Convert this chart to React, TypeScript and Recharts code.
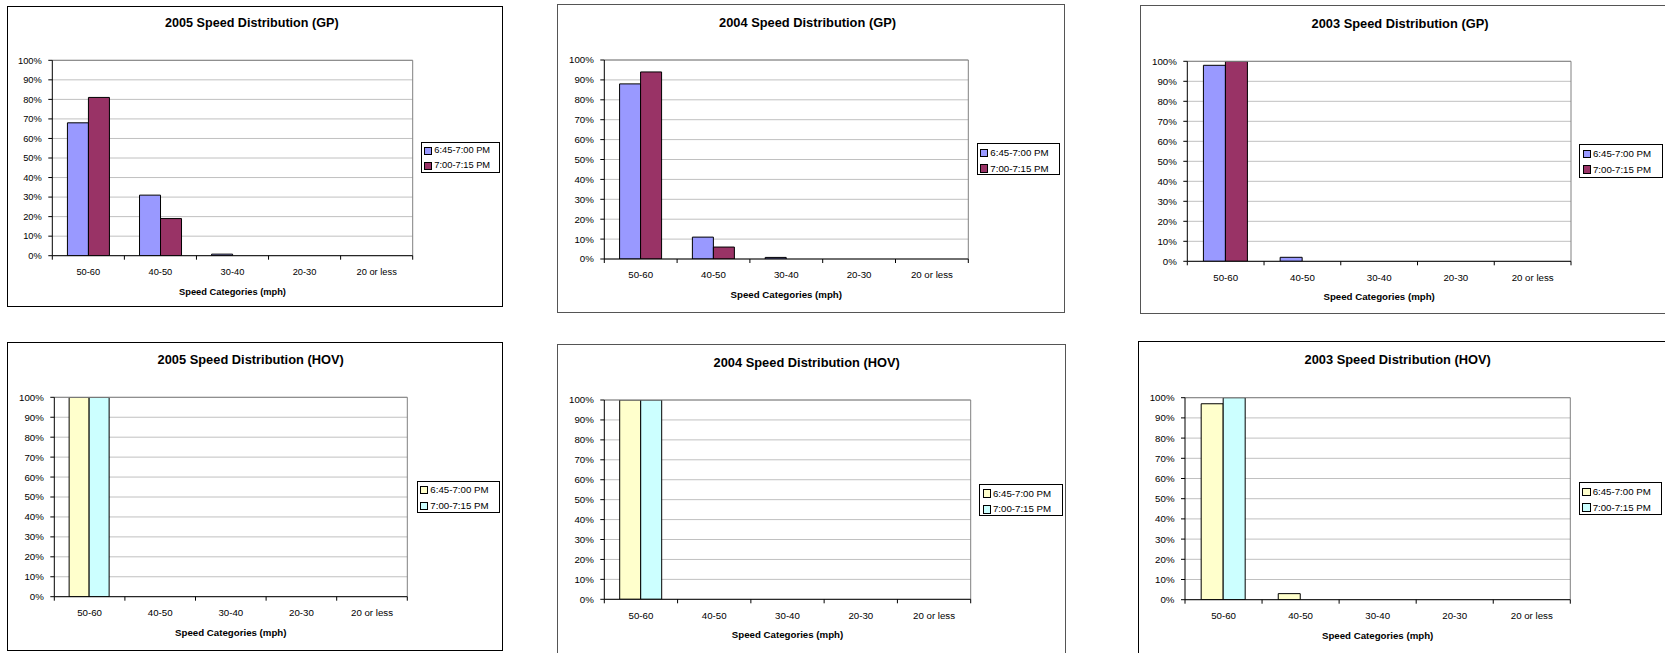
import React from 'react';
import { BarChart, Bar, XAxis, YAxis, CartesianGrid, ReferenceLine, Legend } from 'recharts';

// Speed bins (x axis) and percent ticks (y axis)
const categories = ['50-60', '40-50', '30-40', '20-30', '20 or less'];
const yTicks = [0, 10, 20, 30, 40, 50, 60, 70, 80, 90, 100];
const seriesNames = ['6:45-7:00 PM', '7:00-7:15 PM'];

// Share of observations per speed bin, in percent
const gp2005Early = [68, 31, 0.8, 0, 0];
const gp2005Late = [81, 19, 0, 0, 0];
const gp2004Early = [88, 11, 0.8, 0, 0];
const gp2004Late = [94, 6, 0, 0, 0];
const gp2003Early = [98, 2, 0, 0, 0];
const gp2003Late = [100, 0, 0, 0, 0];
const hov2005Early = [100, 0, 0, 0, 0];
const hov2005Late = [100, 0, 0, 0, 0];
const hov2004Early = [100, 0, 0, 0, 0];
const hov2004Late = [100, 0, 0, 0, 0];
const hov2003Early = [97, 3, 0, 0, 0];
const hov2003Late = [100, 0, 0, 0, 0];

const gpColors = ['#9999FF', '#993366'];
const hovColors = ['#FFFFCC', '#CCFFFF'];

const FONT = '"Liberation Sans", Arial, Helvetica, sans-serif';

type PanelSpec = {
  title: string;
  early: number[];
  late: number[];
  colors: string[];
  box: [number, number, number, number];
  plot: [number, number, number, number];
  legend: [number, number, number, number];
  titleAt: [number, number];
  fs: number;
  titleFs: number;
  border: string;
};

const panels: PanelSpec[] = [
  {
    title: '2005 Speed Distribution (GP)', early: gp2005Early, late: gp2005Late, colors: gpColors,
    box: [7, 6, 496, 301], plot: [52.3, 60.3, 412.7, 255.7], legend: [421, 141.7, 79, 31.6],
    titleAt: [251.8, 23.3], fs: 9.3, titleFs: 12.6, border: '#000',
  },
  {
    title: '2004 Speed Distribution (GP)', early: gp2004Early, late: gp2004Late, colors: gpColors,
    box: [557, 4, 508, 309], plot: [604.3, 60, 968.3, 259], legend: [976.7, 143.3, 83.3, 31.7],
    titleAt: [807.5, 23.3], fs: 9.7, titleFs: 12.85, border: '#555',
  },
  {
    title: '2003 Speed Distribution (GP)', early: gp2003Early, late: gp2003Late, colors: gpColors,
    box: [1140, 5, 532, 309], plot: [1187.3, 61.3, 1571, 261.3], legend: [1579.3, 144.3, 84, 33.4],
    titleAt: [1400, 24.3], fs: 9.7, titleFs: 12.85, border: '#555',
  },
  {
    title: '2005 Speed Distribution (HOV)', early: hov2005Early, late: hov2005Late, colors: hovColors,
    box: [7, 342, 496, 309], plot: [54.3, 397.3, 407.3, 596.7], legend: [416.7, 480.7, 83.3, 32],
    titleAt: [250.7, 360.7], fs: 9.7, titleFs: 12.85, border: '#000',
  },
  {
    title: '2004 Speed Distribution (HOV)', early: hov2004Early, late: hov2004Late, colors: hovColors,
    box: [557, 344, 509, 320], plot: [604.3, 400, 970.7, 599.3], legend: [979.3, 484, 83.4, 32],
    titleAt: [806.7, 363.3], fs: 9.7, titleFs: 12.85, border: '#555',
  },
  {
    title: '2003 Speed Distribution (HOV)', early: hov2003Early, late: hov2003Late, colors: hovColors,
    box: [1138, 341, 534, 320], plot: [1185, 397.7, 1570.3, 599.7], legend: [1579, 482.3, 83.3, 32.4],
    titleAt: [1397.7, 360.7], fs: 9.7, titleFs: 12.85, border: '#000',
  },
];

// Category label centred in its band, with tick marks on the band edges
function BandTick(props: any) {
  const { x, y, payload, index, band, count, fs } = props;
  return (
    <g>
      <line x1={x - band / 2} x2={x - band / 2} y1={y} y2={y + 4} stroke="#000" />
      {index === count - 1 && <line x1={x + band / 2} x2={x + band / 2} y1={y} y2={y + 4} stroke="#000" />}
      <text x={x} y={y + 16} dy="0.355em" textAnchor="middle" fontSize={fs} fill="#000" style={{ fontFamily: FONT }}>
        {payload.value}
      </text>
    </g>
  );
}

function LegendBox(props: any) {
  const { payload, fs } = props;
  const s = fs / 9.3;
  const items = (payload || []) as any[];
  return (
    <div
      style={{
        width: '100%', height: '100%', boxSizing: 'border-box', border: '1px solid #000',
        background: '#fff', position: 'relative', fontFamily: FONT, fontSize: fs, color: '#000',
      }}
    >
      {items.map((it, i) => (
        <div
          key={it.value}
          style={{
            position: 'absolute', left: 2.3, top: 9 * s + 15.3 * s * i - 1 - 7.5, height: 15,
            display: 'flex', alignItems: 'center', whiteSpace: 'nowrap', lineHeight: 1,
          }}
        >
          <span
            style={{
              display: 'inline-block', width: 8 * s, height: 8 * s, boxSizing: 'border-box',
              border: '1px solid #000', background: it.color,
            }}
          />
          <span style={{ marginLeft: 2 }}>{it.value}</span>
        </div>
      ))}
    </div>
  );
}

function SpeedPanel({ p }: { p: PanelSpec }) {
  const [bx, by, bw, bh] = p.box;
  const [pl, pt, pr, pb] = p.plot;
  const [lx, ly, lw, lh] = p.legend;
  const xAxisH = 45;
  const band = (pr - pl) / categories.length;
  const data = categories.map((c, i) => ({ category: c, early: p.early[i], late: p.late[i] }));

  return (
    <div
      style={{
        position: 'absolute', left: bx, top: by, width: bw, height: bh,
        border: `1px solid ${p.border}`, boxSizing: 'border-box', background: '#fff',
      }}
    >
      <div style={{ position: 'absolute', left: -1, top: -1, width: bw, height: bh, fontFamily: FONT }}>
        <div
          style={{
            position: 'absolute', left: p.titleAt[0] - bx - 250, width: 500,
            top: p.titleAt[1] - by - 0.488 * p.titleFs, textAlign: 'center',
            fontSize: p.titleFs, fontWeight: 'bold', lineHeight: 1, color: '#000', zIndex: 2,
          }}
        >
          {p.title}
        </div>
        <BarChart
          width={bw}
          height={bh}
          data={data}
          margin={{ top: pt - by, right: bx + bw - pr, bottom: by + bh - pb - xAxisH, left: 0 }}
          barCategoryGap="21%"
          barGap={0}
        >
          <CartesianGrid vertical={false} stroke="#c0c0c0" />
          <ReferenceLine y={100} stroke="#808080" />
          <ReferenceLine x={categories[categories.length - 1]} position="end" stroke="#808080" />
          <XAxis
            dataKey="category"
            height={xAxisH}
            interval={0}
            tickSize={0}
            tickMargin={0}
            tickLine={false}
            axisLine={{ stroke: '#000' }}
            tick={(tp: any) => <BandTick {...tp} band={band} count={categories.length} fs={p.fs} />}
            label={{
              value: 'Speed Categories (mph)', position: 'insideTop', offset: 35.5 - 0.355 * p.fs,
              fill: '#000', fontSize: p.fs, fontWeight: 'bold',
            }}
          />
          <YAxis
            width={pl - bx}
            domain={[0, 100]}
            ticks={yTicks}
            interval={0}
            allowDataOverflow
            tickFormatter={(v: number) => `${v}%`}
            tickSize={4}
            tickMargin={6.5}
            axisLine={{ stroke: '#000' }}
            tickLine={{ stroke: '#000' }}
            tick={{ fill: '#000', fontSize: p.fs }}
          />
          <Bar dataKey="early" name={seriesNames[0]} fill={p.colors[0]} stroke="#000" strokeWidth={1} isAnimationActive={false} />
          <Bar dataKey="late" name={seriesNames[1]} fill={p.colors[1]} stroke="#000" strokeWidth={1} isAnimationActive={false} />
          <Legend
            layout="horizontal"
            verticalAlign="middle"
            align="center"
            content={(lp: any) => <LegendBox {...lp} fs={p.fs} />}
            wrapperStyle={{ left: lx - bx, top: ly - by, width: lw, height: lh }}
          />
        </BarChart>
      </div>
    </div>
  );
}

export default function App() {
  return (
    <div
      style={{
        position: 'absolute', left: 0, top: 0, width: 1665, height: 653,
        overflow: 'hidden', background: '#fff',
      }}
    >
      {panels.map((p) => (
        <SpeedPanel key={p.title} p={p} />
      ))}
    </div>
  );
}
